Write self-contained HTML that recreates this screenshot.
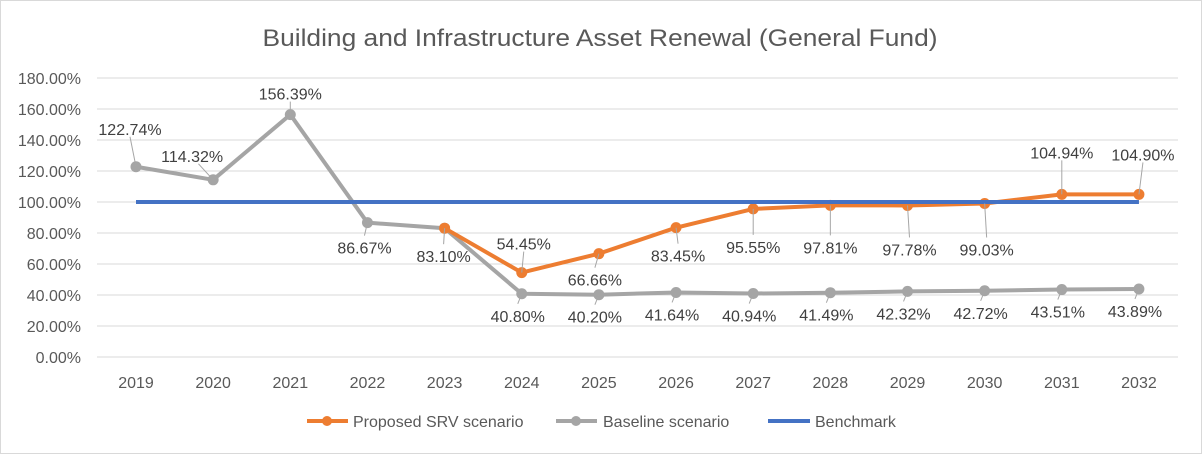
<!DOCTYPE html>
<html><head><meta charset="utf-8"><style>
html,body{margin:0;padding:0;background:#fff;}
svg{display:block;font-family:"Liberation Sans",sans-serif;}
</style></head><body>
<svg id="chart" width="1202" height="454">
<rect x="0.5" y="0.5" width="1201" height="453" fill="#fff" stroke="#d9d9d9"/>
<text x="600" y="46" text-anchor="middle" font-size="24" fill="#595959" textLength="675" lengthAdjust="spacingAndGlyphs">Building and Infrastructure Asset Renewal (General Fund)</text>
<g id="grid"></g><g id="series"></g><g id="labels"></g>
<g>
<g><line x1="307" y1="421" x2="348" y2="421" stroke="#ed7d31" stroke-width="4"/><circle cx="327" cy="421" r="5" fill="#ed7d31"/><text x="353" y="427" font-size="16" fill="#595959">Proposed SRV scenario</text></g>
<g><line x1="556" y1="421" x2="597" y2="421" stroke="#a5a5a5" stroke-width="4"/><circle cx="576" cy="421" r="5" fill="#a5a5a5"/><text x="603" y="427" font-size="16" fill="#595959">Baseline scenario</text></g>
<g><line x1="768" y1="421" x2="810" y2="421" stroke="#4472c4" stroke-width="4"/><text x="815" y="427" font-size="16" fill="#595959">Benchmark</text></g>
</g>
</svg>
<script>
const years=["2019","2020","2021","2022","2023","2024","2025","2026","2027","2028","2029","2030","2031","2032"];
const baseline=[122.74,114.32,156.39,86.67,83.10,40.80,40.20,41.64,40.94,41.49,42.32,42.72,43.51,43.89];
const proposed=[null,null,null,null,83.10,54.45,66.66,83.45,95.55,97.81,97.78,99.03,104.94,104.90];
const benchmark=[100,100,100,100,100,100,100,100,100,100,100,100,100,100];
const yTicks=[0,20,40,60,80,100,120,140,160,180];
const proposedLabelsShown=[false,false,false,false,false,true,true,true,true,true,true,true,true,true];
// label placement offsets (layout, not data)
const baseOff=[[-6,-38],[-21,-24],[0,-21],[-3,25],[-1,28],[-4,22],[-4,22],[-4,22],[-4,22],[-4,22],[-4,22],[-4,22],[-4,22],[-4,22]];
const propOff=[[0,0],[0,0],[0,0],[0,0],[0,0],[2,-29],[-4,26],[2,28],[0,38],[0,42],[2,44],[2,46],[0,-42],[4,-40]];
const NS="http://www.w3.org/2000/svg";
const x0=136,dx=77.15,yBase=357,yTop=78;
const X=i=>x0+i*dx;
const Y=v=>yBase-(v/180)*(yBase-yTop);
function mk(t,a,p){const e=document.createElementNS(NS,t);for(const k in a)e.setAttribute(k,a[k]);p.appendChild(e);return e;}
const grid=document.getElementById('grid'),ser=document.getElementById('series'),lab=document.getElementById('labels');
yTicks.forEach(v=>{
 const l=mk('line',{x1:97,x2:1178,y1:Y(v),y2:Y(v),stroke:'#d9d9d9','stroke-width':1},grid);
 
 
 const t=mk('text',{x:81,y:Y(v)+6,'text-anchor':'end','font-size':16,fill:'#595959'},grid);
 t.textContent=v.toFixed(2)+'%';
 
 
});
years.forEach((y,i)=>{
 const t=mk('text',{x:X(i),y:388,'text-anchor':'middle','font-size':16,fill:'#595959'},grid);
 t.textContent=y;
 
 
});
function line(vals,color,name,markers){
 const pts=[];vals.forEach((v,i)=>{if(v!==null)pts.push(X(i)+','+Y(v));});
 const p=mk('polyline',{points:pts.join(' '),fill:'none',stroke:color,'stroke-width':4,'stroke-linejoin':'round'},ser);
 
 
 if(markers)vals.forEach((v,i)=>{if(v===null)return;
  const c=mk('circle',{cx:X(i),cy:Y(v),r:5.5,fill:color},ser);
  
  
 });
}
line(baseline,'#a5a5a5','baseline',true);
line(proposed,'#ed7d31','proposed',true);
line(benchmark,'#4472c4','benchmark',false);
function labels(vals,off,show){
 vals.forEach((v,i)=>{if(v===null||(show&&!show[i]))return;
  const px=X(i),py=Y(v),lx=px+off[i][0],ly=py+off[i][1];
  if(Math.abs(off[i][1])>20){
   const l=mk('line',{x1:px,y1:py,x2:lx+(off[i][0]<-10?-off[i][0]*0.3:0),y2:ly+(off[i][1]<0?8:-12),stroke:'#a6a6a6','stroke-width':1},lab);
   
   
  }
  const t=mk('text',{x:lx,y:ly+6,'text-anchor':'middle','font-size':16,fill:'#404040'},lab);
  t.textContent=v.toFixed(2)+'%';
  
  
 });
}
labels(baseline,baseOff,null);
labels(proposed,propOff,proposedLabelsShown);
</script>
</body></html>
